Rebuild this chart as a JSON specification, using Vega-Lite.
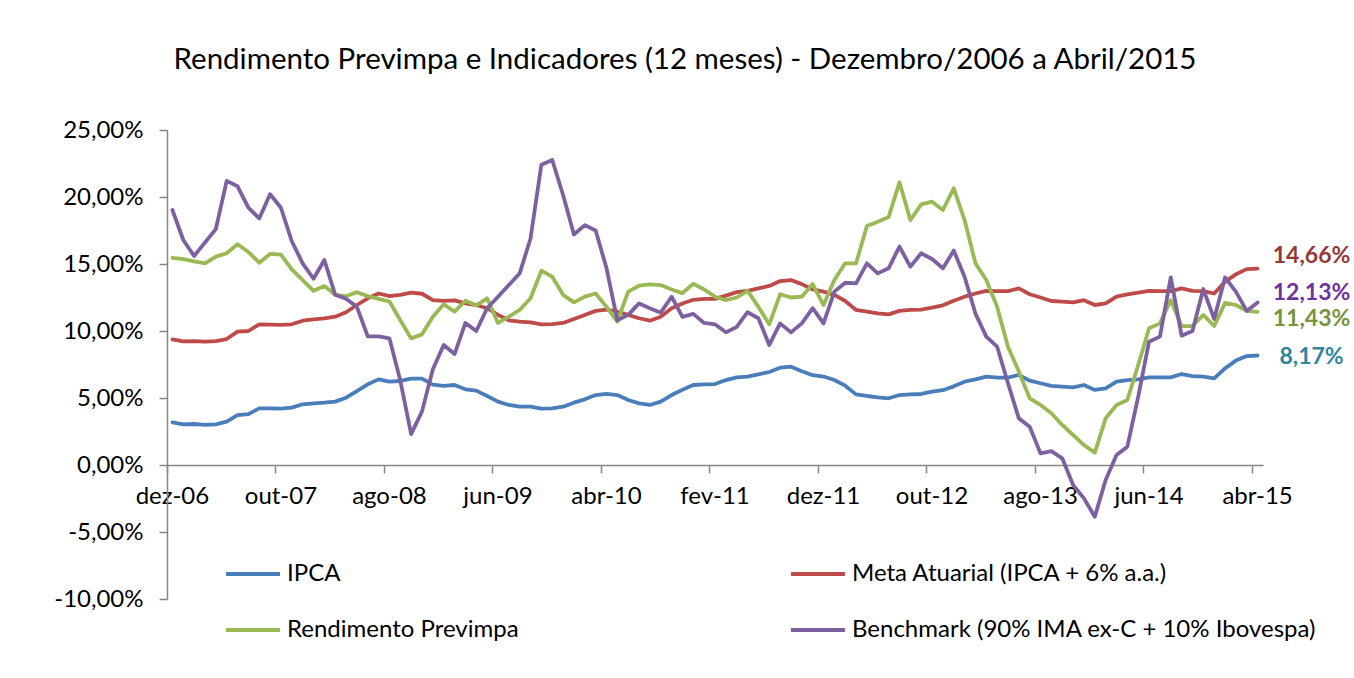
{
  "$schema": "https://vega.github.io/schema/vega-lite/v6.json",
  "width": 1096,
  "height": 469,
  "autosize": "none",
  "padding": {"left": 167, "top": 130, "right": 91, "bottom": 79},
  "background": "white",
  "title": {
    "text": "Rendimento Previmpa e Indicadores (12 meses) - Dezembro/2006 a Abril/2015",
    "font": "Lato",
    "fontSize": 29.5,
    "fontWeight": "normal",
    "color": "#000000",
    "anchor": "middle",
    "frame": "group",
    "dx": -30,
    "offset": 43
  },
  "config": {
    "view": {"stroke": null},
    "locale": {"number": {"decimal": ",", "thousands": ".", "grouping": [3], "currency": ["R$", ""], "minus": "-"}},
    "axis": {"labelFont": "Lato", "labelFontSize": 24, "labelColor": "#000000", "domainColor": "#868686", "tickColor": "#868686", "domainWidth": 1.5, "tickWidth": 1.5, "grid": false, "title": null}
  },
  "data": {
    "values": [
      {"m":"dez-06","ipca":0.0318,"meta":0.0938,"rend":0.1545,"bench":0.1903},
      {"m":"jan-07","ipca":0.0303,"meta":0.0923,"rend":0.1537,"bench":0.1679},
      {"m":"fev-07","ipca":0.0306,"meta":0.0925,"rend":0.1520,"bench":0.1560},
      {"m":"mar-07","ipca":0.0299,"meta":0.0920,"rend":0.1505,"bench":0.1660},
      {"m":"abr-07","ipca":0.0303,"meta":0.0925,"rend":0.1555,"bench":0.1760},
      {"m":"mai-07","ipca":0.0323,"meta":0.0940,"rend":0.1580,"bench":0.2120},
      {"m":"jun-07","ipca":0.0373,"meta":0.0995,"rend":0.1647,"bench":0.2080},
      {"m":"jul-07","ipca":0.0380,"meta":0.1000,"rend":0.1590,"bench":0.1920},
      {"m":"ago-07","ipca":0.0423,"meta":0.1050,"rend":0.1510,"bench":0.1840},
      {"m":"set-07","ipca":0.0423,"meta":0.1047,"rend":0.1575,"bench":0.2020},
      {"m":"out-07","ipca":0.0420,"meta":0.1045,"rend":0.1570,"bench":0.1920},
      {"m":"nov-07","ipca":0.0428,"meta":0.1050,"rend":0.1460,"bench":0.1670},
      {"m":"dez-07","ipca":0.0453,"meta":0.1077,"rend":0.1380,"bench":0.1505},
      {"m":"jan-08","ipca":0.0460,"meta":0.1087,"rend":0.1300,"bench":0.1390},
      {"m":"fev-08","ipca":0.0465,"meta":0.1095,"rend":0.1336,"bench":0.1530},
      {"m":"mar-08","ipca":0.0473,"meta":0.1107,"rend":0.1270,"bench":0.1270},
      {"m":"abr-08","ipca":0.0502,"meta":0.1140,"rend":0.1260,"bench":0.1240},
      {"m":"mai-08","ipca":0.0552,"meta":0.1194,"rend":0.1290,"bench":0.1180},
      {"m":"jun-08","ipca":0.0602,"meta":0.1244,"rend":0.1260,"bench":0.0960},
      {"m":"jul-08","ipca":0.0639,"meta":0.1280,"rend":0.1240,"bench":0.0960},
      {"m":"ago-08","ipca":0.0622,"meta":0.1260,"rend":0.1220,"bench":0.0945},
      {"m":"set-08","ipca":0.0627,"meta":0.1270,"rend":0.1080,"bench":0.0630},
      {"m":"out-08","ipca":0.0644,"meta":0.1286,"rend":0.0945,"bench":0.0230},
      {"m":"nov-08","ipca":0.0645,"meta":0.1278,"rend":0.0975,"bench":0.0400},
      {"m":"dez-08","ipca":0.0600,"meta":0.1230,"rend":0.1107,"bench":0.0715},
      {"m":"jan-09","ipca":0.0591,"meta":0.1225,"rend":0.1200,"bench":0.0895},
      {"m":"fev-09","ipca":0.0597,"meta":0.1229,"rend":0.1144,"bench":0.0828},
      {"m":"mar-09","ipca":0.0565,"meta":0.1206,"rend":0.1226,"bench":0.1060},
      {"m":"abr-09","ipca":0.0555,"meta":0.1194,"rend":0.1190,"bench":0.1000},
      {"m":"mai-09","ipca":0.0515,"meta":0.1170,"rend":0.1244,"bench":0.1170},
      {"m":"jun-09","ipca":0.0473,"meta":0.1120,"rend":0.1060,"bench":0.1256},
      {"m":"jul-09","ipca":0.0448,"meta":0.1080,"rend":0.1107,"bench":0.1343},
      {"m":"ago-09","ipca":0.0435,"meta":0.1070,"rend":0.1157,"bench":0.1430},
      {"m":"set-09","ipca":0.0435,"meta":0.1065,"rend":0.1244,"bench":0.1690},
      {"m":"out-09","ipca":0.0420,"meta":0.1050,"rend":0.1450,"bench":0.2240},
      {"m":"nov-09","ipca":0.0423,"meta":0.1052,"rend":0.1405,"bench":0.2276},
      {"m":"dez-09","ipca":0.0435,"meta":0.1060,"rend":0.1270,"bench":0.2015},
      {"m":"jan-10","ipca":0.0465,"meta":0.1090,"rend":0.1214,"bench":0.1720},
      {"m":"fev-10","ipca":0.0490,"meta":0.1120,"rend":0.1256,"bench":0.1790},
      {"m":"mar-10","ipca":0.0522,"meta":0.1150,"rend":0.1280,"bench":0.1750},
      {"m":"abr-10","ipca":0.0530,"meta":0.1160,"rend":0.1180,"bench":0.1470},
      {"m":"mai-10","ipca":0.0522,"meta":0.1144,"rend":0.1070,"bench":0.1080},
      {"m":"jun-10","ipca":0.0485,"meta":0.1120,"rend":0.1294,"bench":0.1120},
      {"m":"jul-10","ipca":0.0460,"meta":0.1095,"rend":0.1338,"bench":0.1206},
      {"m":"ago-10","ipca":0.0448,"meta":0.1077,"rend":0.1348,"bench":0.1170},
      {"m":"set-10","ipca":0.0473,"meta":0.1107,"rend":0.1343,"bench":0.1137},
      {"m":"out-10","ipca":0.0522,"meta":0.1170,"rend":0.1310,"bench":0.1256},
      {"m":"nov-10","ipca":0.0562,"meta":0.1205,"rend":0.1283,"bench":0.1105},
      {"m":"dez-10","ipca":0.0597,"meta":0.1233,"rend":0.1353,"bench":0.1128},
      {"m":"jan-11","ipca":0.0602,"meta":0.1239,"rend":0.1310,"bench":0.1060},
      {"m":"fev-11","ipca":0.0604,"meta":0.1240,"rend":0.1256,"bench":0.1050},
      {"m":"mar-11","ipca":0.0634,"meta":0.1264,"rend":0.1230,"bench":0.0990},
      {"m":"abr-11","ipca":0.0654,"meta":0.1290,"rend":0.1250,"bench":0.1030},
      {"m":"mai-11","ipca":0.0660,"meta":0.1300,"rend":0.1300,"bench":0.1140},
      {"m":"jun-11","ipca":0.0677,"meta":0.1318,"rend":0.1180,"bench":0.1095},
      {"m":"jul-11","ipca":0.0694,"meta":0.1336,"rend":0.1050,"bench":0.0896},
      {"m":"ago-11","ipca":0.0726,"meta":0.1373,"rend":0.1274,"bench":0.1057},
      {"m":"set-11","ipca":0.0734,"meta":0.1380,"rend":0.1250,"bench":0.0990},
      {"m":"out-11","ipca":0.0700,"meta":0.1350,"rend":0.1256,"bench":0.1057},
      {"m":"nov-11","ipca":0.0670,"meta":0.1310,"rend":0.1350,"bench":0.1170},
      {"m":"dez-11","ipca":0.0660,"meta":0.1294,"rend":0.1194,"bench":0.1057},
      {"m":"jan-12","ipca":0.0634,"meta":0.1269,"rend":0.1380,"bench":0.1294},
      {"m":"fev-12","ipca":0.0592,"meta":0.1224,"rend":0.1505,"bench":0.1360},
      {"m":"mar-12","ipca":0.0527,"meta":0.1157,"rend":0.1505,"bench":0.1356},
      {"m":"abr-12","ipca":0.0515,"meta":0.1144,"rend":0.1784,"bench":0.1505},
      {"m":"mai-12","ipca":0.0505,"meta":0.1132,"rend":0.1816,"bench":0.1430},
      {"m":"jun-12","ipca":0.0498,"meta":0.1124,"rend":0.1850,"bench":0.1468},
      {"m":"jul-12","ipca":0.0522,"meta":0.1150,"rend":0.2110,"bench":0.1630},
      {"m":"ago-12","ipca":0.0527,"meta":0.1157,"rend":0.1828,"bench":0.1480},
      {"m":"set-12","ipca":0.0530,"meta":0.1160,"rend":0.1945,"bench":0.1580},
      {"m":"out-12","ipca":0.0547,"meta":0.1174,"rend":0.1965,"bench":0.1537},
      {"m":"nov-12","ipca":0.0558,"meta":0.1192,"rend":0.1903,"bench":0.1468},
      {"m":"dez-12","ipca":0.0587,"meta":0.1226,"rend":0.2065,"bench":0.1600},
      {"m":"jan-13","ipca":0.0622,"meta":0.1256,"rend":0.1828,"bench":0.1405},
      {"m":"fev-13","ipca":0.0639,"meta":0.1280,"rend":0.1505,"bench":0.1130},
      {"m":"mar-13","ipca":0.0660,"meta":0.1300,"rend":0.1380,"bench":0.0958},
      {"m":"abr-13","ipca":0.0652,"meta":0.1298,"rend":0.1180,"bench":0.0883},
      {"m":"mai-13","ipca":0.0652,"meta":0.1298,"rend":0.0883,"bench":0.0610},
      {"m":"jun-13","ipca":0.0672,"meta":0.1318,"rend":0.0697,"bench":0.0348},
      {"m":"jul-13","ipca":0.0629,"meta":0.1274,"rend":0.0498,"bench":0.0286},
      {"m":"ago-13","ipca":0.0610,"meta":0.1250,"rend":0.0448,"bench":0.0087},
      {"m":"set-13","ipca":0.0590,"meta":0.1224,"rend":0.0386,"bench":0.0104},
      {"m":"out-13","ipca":0.0585,"meta":0.1219,"rend":0.0299,"bench":0.0050},
      {"m":"nov-13","ipca":0.0580,"meta":0.1214,"rend":0.0224,"bench":-0.0149},
      {"m":"dez-13","ipca":0.0597,"meta":0.1230,"rend":0.0149,"bench":-0.0249},
      {"m":"jan-14","ipca":0.0560,"meta":0.1194,"rend":0.0092,"bench":-0.0386},
      {"m":"fev-14","ipca":0.0572,"meta":0.1206,"rend":0.0348,"bench":-0.0112},
      {"m":"mar-14","ipca":0.0622,"meta":0.1256,"rend":0.0448,"bench":0.0075},
      {"m":"abr-14","ipca":0.0634,"meta":0.1274,"rend":0.0485,"bench":0.0137},
      {"m":"mai-14","ipca":0.0639,"meta":0.1286,"rend":0.0746,"bench":0.0510},
      {"m":"jun-14","ipca":0.0654,"meta":0.1300,"rend":0.1020,"bench":0.0920},
      {"m":"jul-14","ipca":0.0654,"meta":0.1298,"rend":0.1057,"bench":0.0958},
      {"m":"ago-14","ipca":0.0654,"meta":0.1298,"rend":0.1230,"bench":0.1400},
      {"m":"set-14","ipca":0.0679,"meta":0.1318,"rend":0.1037,"bench":0.0965},
      {"m":"out-14","ipca":0.0664,"meta":0.1300,"rend":0.1037,"bench":0.1000},
      {"m":"nov-14","ipca":0.0660,"meta":0.1298,"rend":0.1120,"bench":0.1313},
      {"m":"dez-14","ipca":0.0647,"meta":0.1280,"rend":0.1037,"bench":0.1090},
      {"m":"jan-15","ipca":0.0721,"meta":0.1368,"rend":0.1210,"bench":0.1400},
      {"m":"fev-15","ipca":0.0779,"meta":0.1423,"rend":0.1194,"bench":0.1294},
      {"m":"mar-15","ipca":0.0813,"meta":0.1462,"rend":0.1150,"bench":0.1150},
      {"m":"abr-15","ipca":0.0817,"meta":0.1466,"rend":0.1143,"bench":0.1213}
    ]
  },
  "transform": [{"fold": ["ipca", "meta", "rend", "bench"], "as": ["s", "v"]}],
  "encoding": {
    "x": {
      "field": "m", "type": "ordinal", "sort": null, "bandPosition": 0.5,
      "scale": {"type": "band", "paddingInner": 0, "paddingOuter": 0},
      "axis": {
        "orient": "bottom", "offset": -134, "bandPosition": 0,
        "values": ["dez-06","out-07","ago-08","jun-09","abr-10","fev-11","dez-11","out-12","ago-13","jun-14","abr-15"],
        "tickSize": 8, "labelPadding": 11, "labelAngle": 0, "labelOverlap": false, "labelFlush": false
      }
    },
    "y": {
      "field": "v", "type": "quantitative",
      "scale": {"domain": [-0.1, 0.25], "nice": false, "zero": false},
      "axis": {"values": [-0.1, -0.05, 0, 0.05, 0.1, 0.15, 0.2, 0.25], "format": ".2%", "tickSize": 8, "labelPadding": 16}
    }
  },
  "layer": [
    {
      "mark": {"type": "line", "strokeWidth": 3.8, "strokeJoin": "round", "strokeCap": "round"},
      "encoding": {
        "color": {
          "field": "s", "type": "nominal",
          "scale": {"domain": ["ipca", "rend", "meta", "bench"], "range": ["#4A7EBB", "#98B954", "#BE4B48", "#7D60A0"]},
          "legend": {
            "orient": "none", "legendX": 57, "legendY": 415, "columns": 2, "columnPadding": 264, "rowPadding": 15,
            "title": null, "padding": 0, "symbolType": "stroke", "symbolSize": 2916, "symbolStrokeWidth": 4,
            "labelFont": "Lato", "labelFontSize": 24, "labelColor": "#000000", "labelOffset": 5, "labelLimit": 800,
            "labelExpr": "datum.label == 'ipca' ? 'IPCA' : datum.label == 'meta' ? 'Meta Atuarial (IPCA + 6% a.a.)' : datum.label == 'rend' ? 'Rendimento Previmpa' : 'Benchmark (90% IMA ex-C + 10% Ibovespa)'"
          }
        }
      }
    },
    {
      "transform": [{"filter": "datum.m == 'abr-15' && datum.s == 'meta'"}],
      "mark": {"type": "text", "font": "Lato", "fontSize": 23, "fontWeight": "bold", "color": "#953735", "align": "center", "baseline": "middle", "dx": 54, "dy": -13},
      "encoding": {"text": {"field": "v", "type": "quantitative", "format": ".2%"}}
    },
    {
      "transform": [{"filter": "datum.m == 'abr-15' && datum.s == 'bench'"}],
      "mark": {"type": "text", "font": "Lato", "fontSize": 23, "fontWeight": "bold", "color": "#7030A0", "align": "center", "baseline": "middle", "dx": 54, "dy": -9},
      "encoding": {"text": {"field": "v", "type": "quantitative", "format": ".2%"}}
    },
    {
      "transform": [{"filter": "datum.m == 'abr-15' && datum.s == 'rend'"}],
      "mark": {"type": "text", "font": "Lato", "fontSize": 23, "fontWeight": "bold", "color": "#77933C", "align": "center", "baseline": "middle", "dx": 54, "dy": 7},
      "encoding": {"text": {"field": "v", "type": "quantitative", "format": ".2%"}}
    },
    {
      "transform": [{"filter": "datum.m == 'abr-15' && datum.s == 'ipca'"}],
      "mark": {"type": "text", "font": "Lato", "fontSize": 23, "fontWeight": "bold", "color": "#31859C", "align": "center", "baseline": "middle", "dx": 54, "dy": 1},
      "encoding": {"text": {"field": "v", "type": "quantitative", "format": ".2%"}}
    }
  ]
}
